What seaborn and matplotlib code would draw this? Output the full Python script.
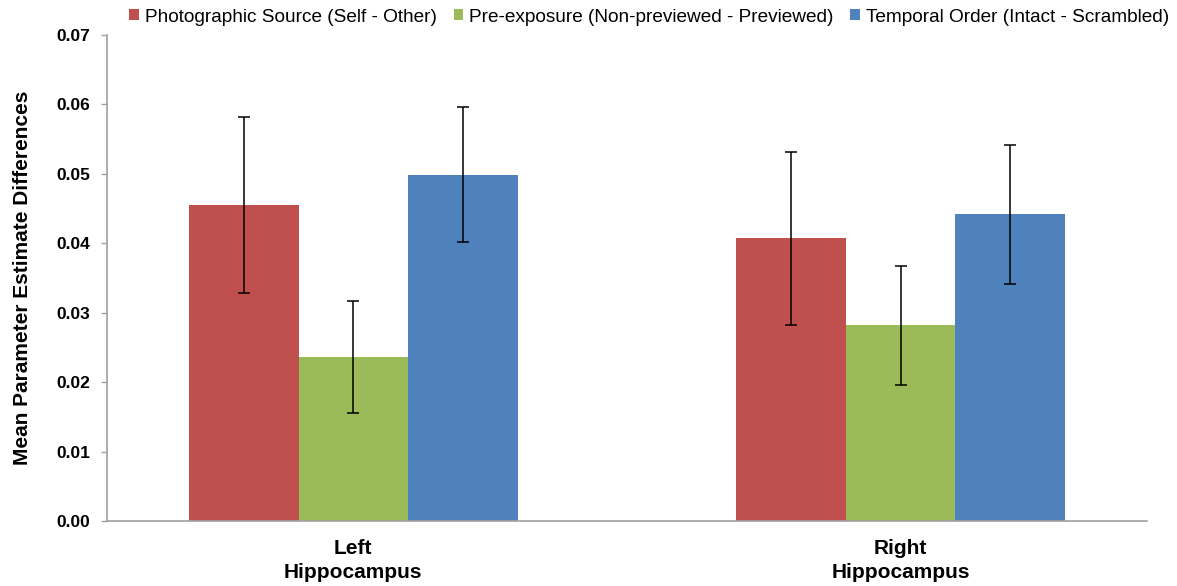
import matplotlib
matplotlib.use("Agg")
import matplotlib.pyplot as plt
import seaborn as sns
import pandas as pd
import numpy as np

# ---- data ----
regions = ["Left\nHippocampus", "Right\nHippocampus"]
contrasts = ["Photographic Source (Self - Other)",
             "Pre-exposure (Non-previewed - Previewed)",
             "Temporal Order (Intact - Scrambled)"]
photographic = [0.0455, 0.0407]
preexposure = [0.0236, 0.0282]
temporal = [0.0499, 0.0442]
photographic_err = [0.0127, 0.0124]
preexposure_err = [0.0081, 0.0086]
temporal_err = [0.0097, 0.0100]
yticks = [0.00, 0.01, 0.02, 0.03, 0.04, 0.05, 0.06, 0.07]

colors = ["#C0504D", "#9BBB59", "#4F81BD"]

rows = []
for c, vals, errs in zip(contrasts, [photographic, preexposure, temporal],
                         [photographic_err, preexposure_err, temporal_err]):
    for r, v, e in zip(regions, vals, errs):
        rows.append({"region": r, "contrast": c, "value": v, "err": e})
df = pd.DataFrame(rows)

sns.set_style("white")
plt.rcParams["font.family"] = ["Liberation Sans", "DejaVu Sans"]
plt.rcParams["text.color"] = "black"
plt.rcParams["axes.labelcolor"] = "black"
plt.rcParams["xtick.labelcolor"] = "black"
plt.rcParams["ytick.labelcolor"] = "black"

fig = plt.figure(figsize=(11.77, 5.86), dpi=100)
ax = fig.add_axes([107/1177, 65/586, 1040/1177, 486/586])

sns.barplot(data=df, x="region", y="value", hue="contrast", order=regions,
            hue_order=contrasts, palette=colors, width=0.6, errorbar=None,
            linewidth=0, saturation=1, ax=ax)

# error bars at the bar centres from seaborn's patches
bars = [p for p in ax.patches if p.get_height() > 0]
for c_i, c in enumerate(contrasts):
    sub = df[df["contrast"] == c].set_index("region").loc[regions]
    cbars = bars[c_i * len(regions):(c_i + 1) * len(regions)]
    xs = [b.get_x() + b.get_width() / 2 for b in cbars]
    ax.errorbar(xs, sub["value"].values, yerr=sub["err"].values, fmt="none",
                ecolor="black", elinewidth=1.1, capsize=4, capthick=1.1, zorder=5)

ax.set_xlim(-0.45, 1.45)
ax.set_ylim(0, 0.07)
ax.set_yticks(yticks)
ax.set_yticklabels([f"{t:.2f}" for t in yticks], fontsize=12.5, fontweight="bold",
                   color="black")
ax.set_xticks(range(len(regions)))
ax.set_xticklabels(regions, fontsize=15, fontweight="bold", color="black")
for t in ax.get_xticklabels():
    t.set_linespacing(1.3)
ax.tick_params(axis="x", length=0, pad=13)
ax.tick_params(axis="y", length=4, width=1, color="#A0A0A0", pad=8, left=True)
ax.set_xlabel("")
ax.set_ylabel("Mean Parameter Estimate Differences", fontsize=15, fontweight="bold",
              color="black")
ax.yaxis.set_label_coords(-0.072, 0.5)

for s in ["top", "right"]:
    ax.spines[s].set_visible(False)
for s in ["left", "bottom"]:
    ax.spines[s].set_color("#A0A0A0")
    ax.spines[s].set_linewidth(1.2)

handles, labels = ax.get_legend_handles_labels()
if ax.get_legend() is not None:
    ax.get_legend().remove()
leg = fig.legend(handles, labels, loc="center", bbox_to_anchor=(649/1177, 1 - 17/586),
                 ncol=3, frameon=False, fontsize=13.7, handlelength=0.5,
                 handleheight=0.5, handletextpad=0.3, columnspacing=0.9,
                 borderaxespad=0)
for t in leg.get_texts():
    t.set_color("black")

fig.savefig("out.png", dpi=100)
